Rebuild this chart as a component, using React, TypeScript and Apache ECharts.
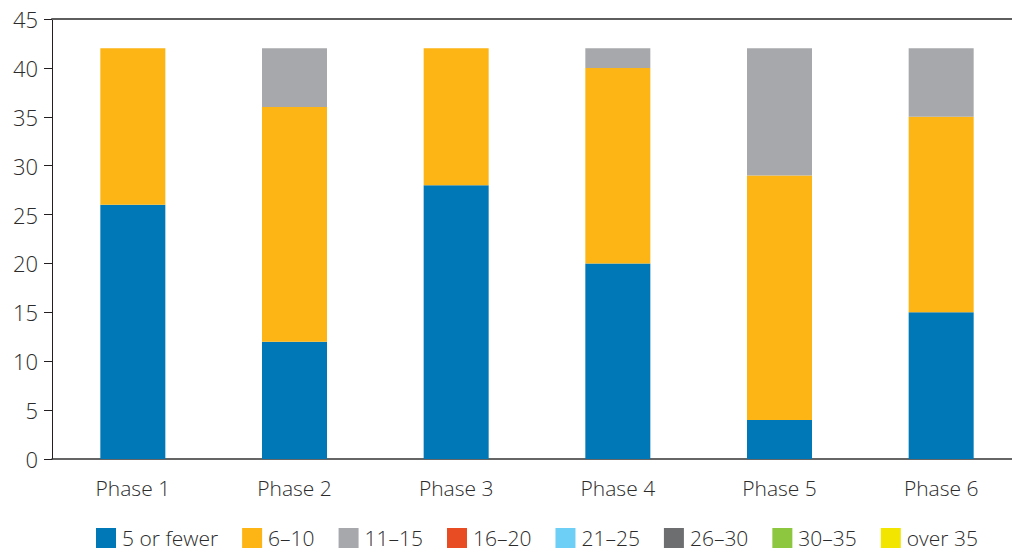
import React, { useEffect, useRef } from "react";
import * as echarts from "echarts";

const phases = ["Phase 1", "Phase 2", "Phase 3", "Phase 4", "Phase 5", "Phase 6"];

const bandNames = ["5 or fewer", "6–10", "11–15", "16–20", "21–25", "26–30", "30–35", "over 35"];
const bandColors = ["#0077b6", "#fdb515", "#a7a8ab", "#e84c22", "#6dcff6", "#6d6e70", "#8dc63f", "#f2e500"];

const fiveOrFewer = [26, 12, 28, 20, 4, 15];
const sixToTen = [16, 24, 14, 20, 25, 20];
const elevenToFifteen = [0, 6, 0, 2, 13, 7];
const sixteenToTwenty = [0, 0, 0, 0, 0, 0];
const twentyOneToTwentyFive = [0, 0, 0, 0, 0, 0];
const twentySixToThirty = [0, 0, 0, 0, 0, 0];
const thirtyToThirtyFive = [0, 0, 0, 0, 0, 0];
const overThirtyFive = [0, 0, 0, 0, 0, 0];

const bandValues = [
  fiveOrFewer,
  sixToTen,
  elevenToFifteen,
  sixteenToTwenty,
  twentyOneToTwentyFive,
  twentySixToThirty,
  thirtyToThirtyFive,
  overThirtyFive,
];

const FONT = "'Open Sans', 'Noto Sans', sans-serif";
const WEIGHT = 300;

export default function App() {
  const ref = useRef<HTMLDivElement>(null);

  useEffect(() => {
    if (!ref.current) return;
    const chart = echarts.init(ref.current, null, { renderer: "svg" });
    chart.setOption({
      animation: false,
      textStyle: { fontFamily: FONT },
      grid: { left: 52, right: 18, top: 19, bottom: 95, containLabel: false },
      legend: {
        left: 91,
        top: 525,
        padding: [2, 5, 2, 5],
        itemWidth: 20,
        itemHeight: 20,
        itemGap: 24,
        icon: "rect",
        data: bandNames,
        textStyle: {
          fontSize: 21,
          lineHeight: 22,
          color: "#2b2b2b",
          fontFamily: FONT,
          fontWeight: WEIGHT,
          padding: [0, 0, 0, 1],
        },
      },
      xAxis: [
        {
          type: "category",
          data: phases,
          axisTick: { show: false },
          axisLine: { lineStyle: { color: "#333", width: 1.5 } },
          axisLabel: { fontSize: 21, color: "#2b2b2b", margin: 18, fontFamily: FONT, fontWeight: WEIGHT },
        },
        {
          type: "category",
          position: "top",
          data: phases,
          axisTick: { show: false },
          axisLabel: { show: false },
          axisLine: { lineStyle: { color: "#5e5e5e", width: 2 } },
        },
      ],
      yAxis: {
        type: "value",
        min: 0,
        max: 45,
        interval: 5,
        axisLine: { show: true, lineStyle: { color: "#231f20", width: 1 } },
        axisTick: { show: true, length: 8, lineStyle: { color: "#231f20" } },
        splitLine: { show: false },
        axisLabel: { fontSize: 22, color: "#2b2b2b", margin: 14, fontFamily: FONT, fontWeight: WEIGHT },
      },
      series: bandNames.map((name, i) => ({
        name,
        type: "bar",
        stack: "total",
        barWidth: 65,
        data: bandValues[i],
        itemStyle: { color: bandColors[i] },
      })),
    });
    return () => chart.dispose();
  }, []);

  return (
    <div style={{ position: "fixed", left: 0, top: 0, width: 1012, height: 554, overflow: "hidden", background: "#fff" }}>
      <div ref={ref} style={{ width: 1040, height: 554 }} />
    </div>
  );
}
